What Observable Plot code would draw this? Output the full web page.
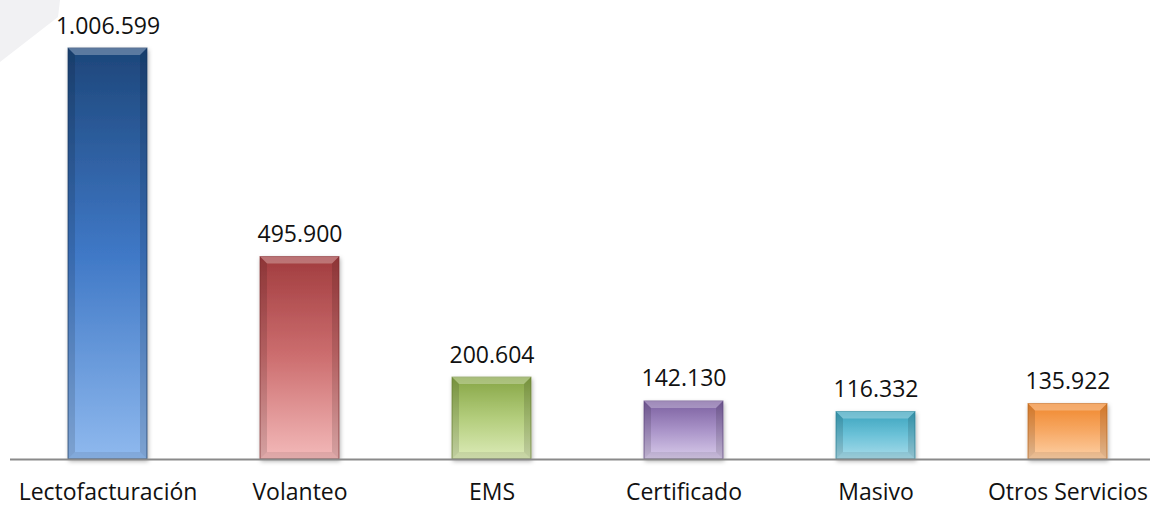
<!DOCTYPE html>
<html>
<head>
<meta charset="utf-8">
<script src="https://cdn.jsdelivr.net/npm/d3@7"></script>
<script src="https://cdn.jsdelivr.net/npm/@observablehq/plot@0.6"></script>
<style>
  html, body { margin: 0; padding: 0; background: #ffffff; }
  #wrap { position: relative; width: 1150px; height: 506px; overflow: hidden; }
  #deco { position: absolute; left: 0; top: 0; width: 70px; height: 70px; background: #f1f1f3;
          clip-path: polygon(0 0, 60px 0, 58px 17px, 0 62px); }
  #chart { position: absolute; left: 0; top: 0; }
  #chart svg { background: transparent; }
</style>
</head>
<body>
<div id="wrap"><div id="deco"></div><div id="chart"></div></div>
<script>
const categories = ["Lectofacturación", "Volanteo", "EMS", "Certificado", "Masivo", "Otros Servicios"];
const values = [1006599, 495900, 200604, 142130, 116332, 135922];
const valueLabels = ["1.006.599", "495.900", "200.604", "142.130", "116.332", "135.922"];
const topColors = ["#1d467a", "#a13c3e", "#86a545", "#7a5e9f", "#3aa3bd", "#f0872c"];
const midColors = ["#3f78c6", "#cd6f70", "#b3cd7c", "#a993c8", "#6cc2d8", "#f7a965"];
const bottomColors = ["#8fb9ee", "#f3b9b9", "#dcebb8", "#d8cbea", "#a9dcea", "#fdd0a6"];
const edgeColors = ["#173a66", "#8a3234", "#6f8a38", "#654c86", "#2f8aa0", "#c86f22"];

const data = categories.map((c, i) => ({cat: c, value: values[i], label: valueLabels[i], idx: i}));
const gradIds = categories.map((c, i) => `url(#barGrad${i})`);

const fontFamily = "'Open Sans', 'Liberation Sans', sans-serif";

const plot = Plot.plot({
  width: 1150,
  height: 506,
  marginLeft: 10,
  marginRight: 0,
  marginTop: 48,
  marginBottom: 47,
  style: {fontFamily, fontSize: "23px", color: "#111111", background: "transparent"},
  x: {domain: categories, range: [10, 1165], paddingInner: 0.59, paddingOuter: 0.295, label: null},
  y: {domain: [0, 1006599], axis: null},
  color: {type: "ordinal", domain: categories, range: gradIds},
  marks: [
    Plot.barY(data, {x: "cat", y: "value", fill: "cat", stroke: "cat", strokeWidth: 1}),
    Plot.ruleY([0], {stroke: "#8a8a8a", strokeWidth: 2}),
    Plot.text(data, {x: "cat", y: "value", text: "label", dy: -15, lineAnchor: "bottom",
      fontSize: 23, fill: "#111111"}),
    Plot.axisX({tickSize: 0, tickPadding: 24, fontSize: 23, fill: "#111111"})
  ]
});

// gradients and bevel effects
const svg = d3.select(plot);
const defs = svg.insert("defs", ":first-child");
categories.forEach((c, i) => {
  const g = defs.append("linearGradient").attr("id", `barGrad${i}`)
    .attr("x1", 0).attr("y1", 0).attr("x2", 0).attr("y2", 1);
  g.append("stop").attr("offset", "0%").attr("stop-color", topColors[i]);
  g.append("stop").attr("offset", "50%").attr("stop-color", midColors[i]);
  g.append("stop").attr("offset", "100%").attr("stop-color", bottomColors[i]);
});
const sh = defs.append("filter").attr("id", "shadow").attr("x", "-20%").attr("y", "-20%").attr("width", "140%").attr("height", "140%");
sh.append("feDropShadow").attr("dx", 1).attr("dy", 2).attr("stdDeviation", 2).attr("flood-color", "#000").attr("flood-opacity", 0.3);

const rects = svg.selectAll("rect").filter(function() {
  const f = this.getAttribute("fill");
  return f && f.startsWith("url(#barGrad");
});
rects.each(function() {
  const r = d3.select(this);
  const i = +r.attr("fill").match(/barGrad(\d+)/)[1];
  r.attr("stroke", edgeColors[i]).attr("stroke-opacity", 0.7).attr("filter", "url(#shadow)");
  const x = +r.attr("x"), y = +r.attr("y"), w = +r.attr("width"), h = +r.attr("height");
  const b = Math.min(7, h / 4);
  const parent = d3.select(this.parentNode);
  parent.append("path")
    .attr("d", `M${x},${y}L${x + w},${y}L${x + w - b},${y + b}L${x + b},${y + b}Z`)
    .attr("fill", "#ffffff").attr("fill-opacity", 0.28);
  parent.append("path")
    .attr("d", `M${x},${y}L${x + b},${y + b}L${x + b},${y + h - b}L${x},${y + h}Z`)
    .attr("fill", "#000000").attr("fill-opacity", 0.12);
  parent.append("path")
    .attr("d", `M${x + w},${y}L${x + w - b},${y + b}L${x + w - b},${y + h - b}L${x + w},${y + h}Z`)
    .attr("fill", "#000000").attr("fill-opacity", 0.12);
  parent.append("path")
    .attr("d", `M${x},${y + h}L${x + b},${y + h - b}L${x + w - b},${y + h - b}L${x + w},${y + h}Z`)
    .attr("fill", "#000000").attr("fill-opacity", 0.08);
});

document.getElementById("chart").appendChild(plot);
</script>
</body>
</html>
